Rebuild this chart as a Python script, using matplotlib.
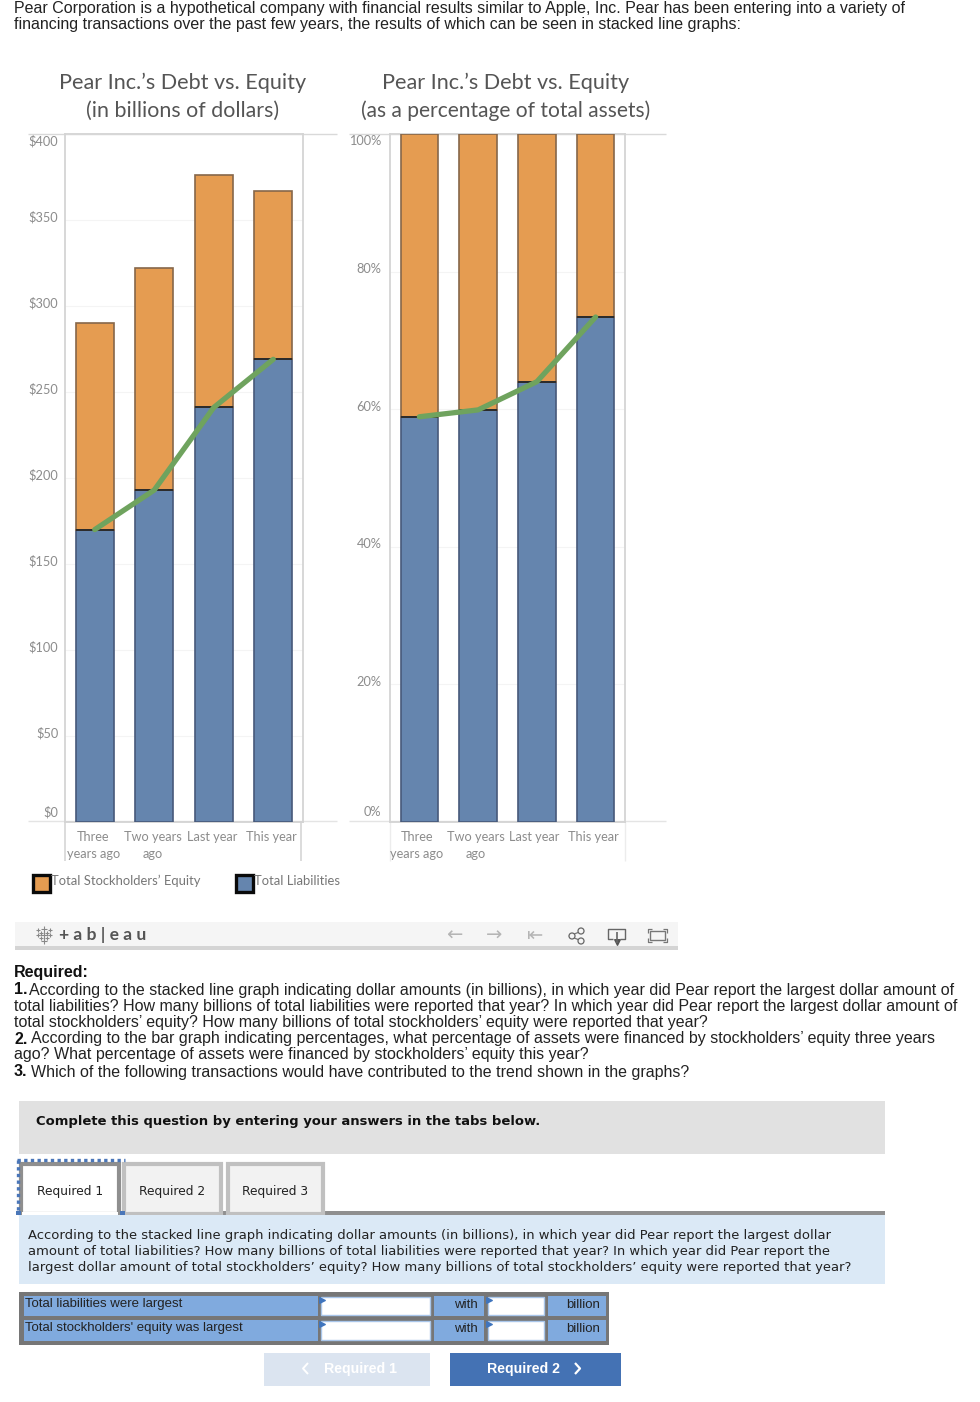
import matplotlib
matplotlib.use("Agg")
import matplotlib.pyplot as plt
from matplotlib.patches import Rectangle, Circle
from matplotlib.transforms import ScaledTranslation

W, H = 980, 1402

categories = ["Three\nyears ago", "Two years\nago", "Last year", "This year"]
liabilities_dollars = [170, 193, 241, 269]
equity_dollars = [120, 129, 135, 98]
liabilities_pct = [58.9, 59.9, 64.0, 73.4]
equity_pct = [41.1, 40.1, 36.0, 26.6]
dollar_ticks = [0, 50, 100, 150, 200, 250, 300, 350, 400]
dollar_labels = ["$0", "$50", "$100", "$150", "$200", "$250", "$300", "$350", "$400"]
pct_ticks = [0, 20, 40, 60, 80, 100]
pct_labels = ["0%", "20%", "40%", "60%", "80%", "100%"]

intro = ["Pear Corporation is a hypothetical company with financial results similar to Apple, Inc. Pear has been entering into a variety of",
         "financing transactions over the past few years, the results of which can be seen in stacked line graphs:"]
required = [("According to the stacked line graph indicating dollar amounts (in billions), in which year did Pear report the largest dollar amount of", "1."),
            ("total liabilities? How many billions of total liabilities were reported that year? In which year did Pear report the largest dollar amount of", ""),
            ("total stockholders\u2019 equity? How many billions of total stockholders\u2019 equity were reported that year?", ""),
            ("According to the bar graph indicating percentages, what percentage of assets were financed by stockholders\u2019 equity three years", "2."),
            ("ago? What percentage of assets were financed by stockholders\u2019 equity this year?", ""),
            ("Which of the following transactions would have contributed to the trend shown in the graphs?", "3.")]
prompt = ["According to the stacked line graph indicating dollar amounts (in billions), in which year did Pear report the largest dollar",
          "amount of total liabilities? How many billions of total liabilities were reported that year? In which year did Pear report the",
          "largest dollar amount of total stockholders\u2019 equity? How many billions of total stockholders\u2019 equity were reported that year?"]

ORANGE = "#e59c51"
BLUE = "#6585ae"
GREEN = "#6fa35e"
TICK = "#8c8c8c"
TITLE = "#555555"
SANS = "Liberation Sans"
VERD = "DejaVu Sans"
TAB = "Lato"

fig = plt.figure(figsize=(W / 100, H / 100), dpi=100, facecolor="white")

# page layer in pixel coordinates
page = fig.add_axes([0, 0, 1, 1])
page.set_xlim(0, W)
page.set_ylim(H, 0)
page.axis("off")


def box(x0, y0, x1, y1, color, **kw):
    page.add_patch(Rectangle((x0, y0), x1 - x0, y1 - y0, facecolor=color, edgecolor="none", **kw))


def line(xs, ys, color="#d9d9d9", lw=1.0, **kw):
    page.plot(xs, ys, color=color, lw=lw, solid_capstyle="butt", **kw)


def label(x, y, s, size, family=SANS, color="#222222", **kw):
    kw.setdefault("va", "center")
    page.text(x, y, s, fontsize=size, family=family, color=color, **kw)


def shift(dx, dy):
    # offset in pixels, y up
    return ScaledTranslation(dx / 100, dy / 100, fig.dpi_scale_trans)


def chart(x0, x1, liab, eq, ymax, ticks, tick_labels, xshift, ypad):
    ax = fig.add_axes([x0 / W, 1 - 822 / H, (x1 - x0) / W, (822 - 134) / H])
    ax.patch.set_alpha(0)
    pos = range(len(categories))
    ax.bar(pos, liab, width=0.64, color=BLUE, edgecolor="#47597a", lw=1.2, zorder=3)
    ax.bar(pos, eq, bottom=liab, width=0.64, color=ORANGE, edgecolor="#86674a", lw=1.2, zorder=3)
    ax.hlines(liab, [p - 0.32 for p in pos], [p + 0.32 for p in pos], color="#2b2b2b", lw=1.4, zorder=3.5)
    ax.plot(pos, liab, color=GREEN, lw=3.8, zorder=4, solid_capstyle="round")
    ax.set_xlim(-0.5, 3.5)
    ax.set_ylim(0, ymax)
    ax.set_yticks(ticks)
    ax.set_yticklabels(tick_labels, fontsize=9.2, family=TAB, color=TICK)
    ax.set_xticks(list(pos))
    ax.set_xticklabels(categories, fontsize=9.2, family=TAB, color=TICK, linespacing=1.5)
    ax.tick_params(length=0)
    ax.tick_params(axis="x", pad=6.5)
    ax.tick_params(axis="y", pad=ypad)
    ylabels = ax.get_yticklabels()
    ylabels[0].set_va("bottom")
    ylabels[-1].set_va("top")
    for t in ylabels[:-1]:
        t.set_transform(t.get_transform() + shift(0, 3.5))
    ylabels[-1].set_transform(ylabels[-1].get_transform() + shift(0, -1))
    for t in ax.get_xticklabels():
        t.set_transform(t.get_transform() + shift(xshift, 0))
    ax.grid(axis="y", color="#f4f4f4", lw=0.8, zorder=0)
    for s in ax.spines.values():
        s.set_color("#d4d4d4")
        s.set_linewidth(1.3)
    return ax


for i, s in enumerate(intro):
    label(14, 8 + 16 * i, s, 11.5)

# charts
label(183, 83, "Pear Inc.\u2019s Debt vs. Equity", 15.6, TAB, TITLE, ha="center")
label(183, 111, "(in billions of dollars)", 15.4, TAB, TITLE, ha="center")
label(506, 83, "Pear Inc.\u2019s Debt vs. Equity", 15.6, TAB, TITLE, ha="center")
label(506, 111, "(as a percentage of total assets)", 15.1, TAB, TITLE, ha="center")

for a, b in [(28, 337), (349, 666)]:
    line([a, b], [134, 134])
    line([a, b], [821, 821], "#e4e4e4")
line([65, 65], [822, 861], "#d9d9d9", 1.3)
line([301, 301], [822, 861], "#d9d9d9", 1.3)
line([390, 390], [822, 861], "#ececec", 1.0)
line([625, 625], [822, 861], "#ececec", 1.0)

chart(65, 303, liabilities_dollars, equity_dollars, 400, dollar_ticks, dollar_labels, -1.5, 4.8)
chart(390, 625, liabilities_pct, equity_pct, 100, pct_ticks, pct_labels, -2.5, 6.2)

# legend
for x, c, t in [(33, ORANGE, "Total Stockholders\u2019 Equity"), (236, BLUE, "Total Liabilities")]:
    page.add_patch(Rectangle((x, 875), 17, 17, facecolor=c, edgecolor="#0a0a0a", lw=2.4))
    label(x + 18, 881, t, 9.4, TAB, "#777777")

# tableau bar
box(15, 922, 678, 946, "#f5f5f5")
box(15, 946, 678, 950, "#d4d4d4")
page.scatter([44, 38, 50, 44, 44, 38, 50, 41, 47, 41, 47], [935, 935, 935, 929, 941, 930, 930, 933, 933, 938, 938],
             marker="+", s=[30, 10, 10, 14, 14, 6, 6, 6, 6, 6, 6], color="#888888", lw=0.8)
label(59, 935, "+ a b | e a u", 12.6, TAB, "#555555", fontweight="bold")
for x, s in [(454, "\u2190"), (494, "\u2192"), (535, "\u21e4")]:
    label(x, 935, s, 14, VERD, "#b5b5b5", ha="center")
line([569, 582], [936, 931], "#777777", 0.9)
line([569, 582], [936, 941], "#777777", 0.9)
for cx, cy in [(572, 936), (581, 931), (581, 941)]:
    page.add_patch(Circle((cx, cy), 3, facecolor="#f5f5f5", edgecolor="#666666", lw=0.9, zorder=3))
line([613, 608, 608, 625, 625, 620], [939, 939, 929, 929, 939, 939], "#666666", 1.0)
line([616.5, 616.5], [932, 943], "#666666", 1.2)
page.scatter([616.5], [942], marker="v", s=16, color="#555555")
page.add_patch(Rectangle((650, 931), 15, 9, facecolor="none", edgecolor="#777777", lw=1.0))
for xs, ys in [([648, 648, 652], [933, 929, 929]), ([663, 667, 667], [929, 929, 933]),
               ([648, 648, 652], [938, 942, 942]), ([663, 667, 667], [942, 942, 938])]:
    line(xs, ys, "#777777", 0.9)

# required text
label(14, 973, "Required:", 11.55, fontweight="bold", color="#111111")
for i, (s, num) in enumerate(required):
    y = [990, 1007, 1023, 1039, 1055, 1072][i]
    if num:
        label(14, y, num, 11.55, fontweight="bold", color="#111111")
        label(29 if num == "1." else 31, y, s, 11.55)
    else:
        label(14, y, s, 11.55)

box(19, 1101, 885, 1154, "#e1e1e1")
label(36, 1121, "Complete this question by entering your answers in the tabs below.", 9.46, VERD, "#111111", fontweight="bold")

# tabs
box(120, 1211, 885, 1215, "#8f8f8f")
for x0, x1, c, f, t in [(21, 119, "#8f8f8f", "white", "Required 1"),
                        (124, 221, "#c0c0c0", "#f2f2f2", "Required 2"),
                        (228, 323, "#c0c0c0", "#f2f2f2", "Required 3")]:
    page.add_patch(Rectangle((x0, 1164), x1 - x0, 50, facecolor=f, edgecolor=c, lw=3))
    label((x0 + x1) / 2, 1191, t, 8.8, VERD, "#222222", ha="center")
box(22, 1212, 118, 1216, "white")
line([17, 125], [1160, 1160], "#4a76b8", 2.4, ls=(0, (1, 1)))
line([18, 18], [1160, 1213], "#4a76b8", 2.4, ls=(0, (1, 1)))
box(120, 1211, 125, 1215, "#4a76b8")
box(16, 1211, 21, 1215, "#4a76b8")

box(19, 1215, 885, 1284, "#dbe9f6")
for i, s in enumerate(prompt):
    label(28, 1235 + 16.5 * i, s, 9.43, VERD, "#222222")

# answer table
box(19, 1292, 609, 1345, "#767676")
for y0, y1, t in [(1296, 1316, "Total liabilities were largest"), (1320, 1341, "Total stockholders' equity was largest")]:
    box(24, y0, 318, y1, "#80aade")
    page.add_patch(Rectangle((321, y0 + 1), 109, y1 - y0 - 2, facecolor="white", edgecolor="#a9c6ea", lw=1))
    box(434, y0, 484, y1, "#80aade")
    page.add_patch(Rectangle((488, y0 + 1), 56, y1 - y0 - 2, facecolor="white", edgecolor="#a9c6ea", lw=1))
    box(548, y0, 606, y1, "#80aade")
    label(25, y0 + 8.5, t, 9.5, color="#222222")
    label(478, y0 + 8.5, "with", 9.5, color="#222222", ha="right")
    label(600, y0 + 8.5, "billion", 9.5, color="#222222", ha="right")
    page.scatter([322, 489], [y0 + 4, y0 + 4], marker=">", s=16, color="#3f74bd", zorder=4)

box(264, 1353, 430, 1386, "#dbe4f0")
box(450, 1353, 621, 1386, "#4472b4")
label(360, 1369, "Required 1", 10.2, color="white", ha="center", fontweight="bold")
label(523.5, 1369, "Required 2", 10.2, color="white", ha="center", fontweight="bold")
line([308, 303, 308], [1363, 1368.5, 1374], "white", 1.4)
line([575, 580, 575], [1363, 1368.5, 1374], "white", 1.6)

fig.savefig("out.png", dpi=100)
